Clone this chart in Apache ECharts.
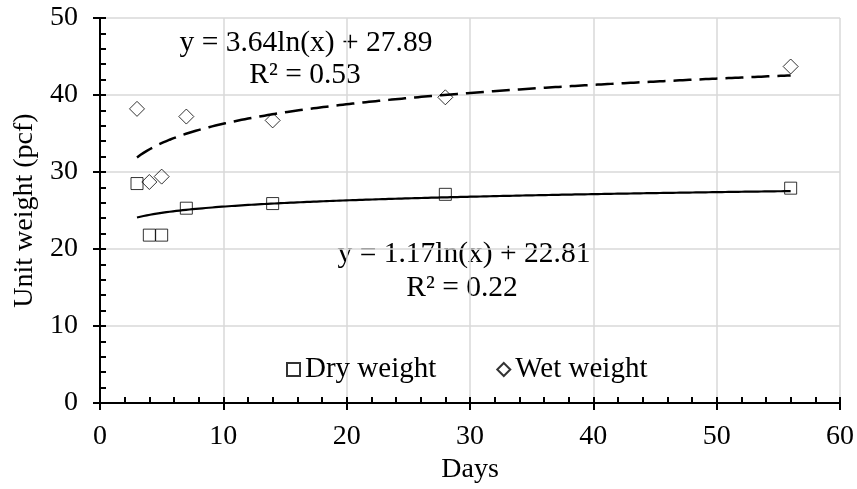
<!DOCTYPE html>
<html><head><meta charset="utf-8">
<script src="https://cdn.jsdelivr.net/npm/echarts@6/dist/echarts.min.js"></script>
<style>html,body{margin:0;padding:0;background:#fff}#c{width:857px;height:489px}</style>
</head><body><div id="c"></div>
<script>
// ---- data ----
const days = [3, 4, 5, 7, 14, 28, 56];
const dryWeight = [28.5, 21.8, 21.8, 25.3, 25.9, 27.1, 27.9];
const wetWeight = [38.2, 28.7, 29.4, 37.2, 36.7, 39.7, 43.7];
const dryFit = [1.17, 22.81];   // slope, intercept of y = a ln(x) + b
const wetFit = [3.64, 27.89];
const dryR2 = 0.22;
const wetR2 = 0.53;
const xTicks = [0, 10, 20, 30, 40, 50, 60];
const yTicks = [0, 10, 20, 30, 40, 50];
const seriesNames = ['Dry weight', 'Wet weight'];

const FONT = "'Liberation Serif','Times New Roman',serif";
const FS = 28;
const FS_EQ = 29.5;

function trend(fit, xs) {
  const lo = Math.min(...xs), hi = Math.max(...xs);
  const pts = [];
  const n = 200;
  for (let i = 0; i <= n; i++) {
    const x = lo + (hi - lo) * i / n;
    pts.push([x, fit[0] * Math.log(x) + fit[1]]);
  }
  return pts;
}
const eqText = f => 'y = ' + f[0].toFixed(2) + 'ln(x) + ' + f[1].toFixed(2);
const r2Text = r => 'R\u00B2 = ' + r.toFixed(2);

const chart = echarts.init(document.getElementById('c'));
const txt = {color: '#000', fontFamily: FONT, fontSize: FS};
const axisLine = {show: true, lineStyle: {color: '#000', width: 2}};
const eqStyle = (t) => ({text: t, fill: '#000', font: FS_EQ + 'px ' + FONT, textAlign: 'center', textVerticalAlign: 'middle'});

chart.setOption({
  animation: false,
  backgroundColor: '#fff',
  grid: {left: 100, right: 16, top: 18, bottom: 84, containLabel: false},
  xAxis: [{
    type: 'value', min: xTicks[0], max: xTicks[xTicks.length - 1], interval: 10,
    axisLine: axisLine,
    axisTick: {show: true, inside: true, length: 6, lineStyle: {color: '#000', width: 2}},
    minorTick: {show: true, splitNumber: 5, length: 6, lineStyle: {color: '#000', width: 2}},
    splitLine: {show: true, lineStyle: {color: '#d9d9d9', width: 1.5}},
    axisLabel: Object.assign({margin: 20}, txt),
    name: 'Days', nameLocation: 'middle', nameGap: 53, nameTextStyle: txt
  }, {
    type: 'value', position: 'bottom', min: xTicks[0], max: xTicks[xTicks.length - 1], interval: 10,
    axisLine: axisLine,
    axisTick: {show: true, inside: false, length: 7, lineStyle: {color: '#000', width: 2}},
    axisLabel: {show: false}, splitLine: {show: false}
  }],
  yAxis: [{
    type: 'value', min: yTicks[0], max: yTicks[yTicks.length - 1], interval: 10,
    axisLine: axisLine,
    axisTick: {show: true, inside: true, length: 6, lineStyle: {color: '#000', width: 2}},
    minorTick: {show: true, splitNumber: 5, length: 6, lineStyle: {color: '#000', width: 2}},
    splitLine: {show: true, lineStyle: {color: '#d9d9d9', width: 1.5}},
    axisLabel: Object.assign({margin: 22}, txt),
    name: 'Unit weight (pcf)', nameLocation: 'middle', nameGap: 56, nameTextStyle: txt
  }, {
    type: 'value', position: 'left', min: yTicks[0], max: yTicks[yTicks.length - 1], interval: 10,
    axisLine: axisLine,
    axisTick: {show: true, inside: false, length: 7, lineStyle: {color: '#000', width: 2}},
    axisLabel: {show: false}, splitLine: {show: false}
  }],
  legend: {
    data: seriesNames, left: 281, top: 350, itemWidth: 13, itemHeight: 13, itemGap: 60,
    textStyle: Object.assign({}, txt, {fontSize: 29})
  },
  series: [{
    name: seriesNames[0], type: 'scatter', symbol: 'rect', symbolSize: 12,
    itemStyle: {color: 'rgba(255,255,255,0)', borderColor: '#000', borderWidth: 1},
    data: days.map((d, i) => [d, dryWeight[i]]), z: 3
  }, {
    name: seriesNames[1], type: 'scatter', symbol: 'diamond', symbolSize: 15,
    itemStyle: {color: 'rgba(255,255,255,0)', borderColor: '#000', borderWidth: 1},
    data: days.map((d, i) => [d, wetWeight[i]]), z: 3
  }, {
    name: 'dryTrend', type: 'line', showSymbol: false, symbol: 'none', silent: true,
    lineStyle: {color: '#000', width: 2.2}, data: trend(dryFit, days), z: 4
  }, {
    name: 'wetTrend', type: 'line', showSymbol: false, symbol: 'none', silent: true,
    lineStyle: {color: '#000', width: 2.5, type: [18, 8]}, data: trend(wetFit, days), z: 4
  }],
  graphic: [
    {type: 'text', x: 306, y: 43, style: eqStyle(eqText(wetFit))},
    {type: 'text', x: 305, y: 75, style: eqStyle(r2Text(wetR2))},
    {type: 'text', x: 464, y: 254, style: eqStyle(eqText(dryFit))},
    {type: 'text', x: 462, y: 288, style: eqStyle(r2Text(dryR2))}
  ]
});
</script></body></html>
